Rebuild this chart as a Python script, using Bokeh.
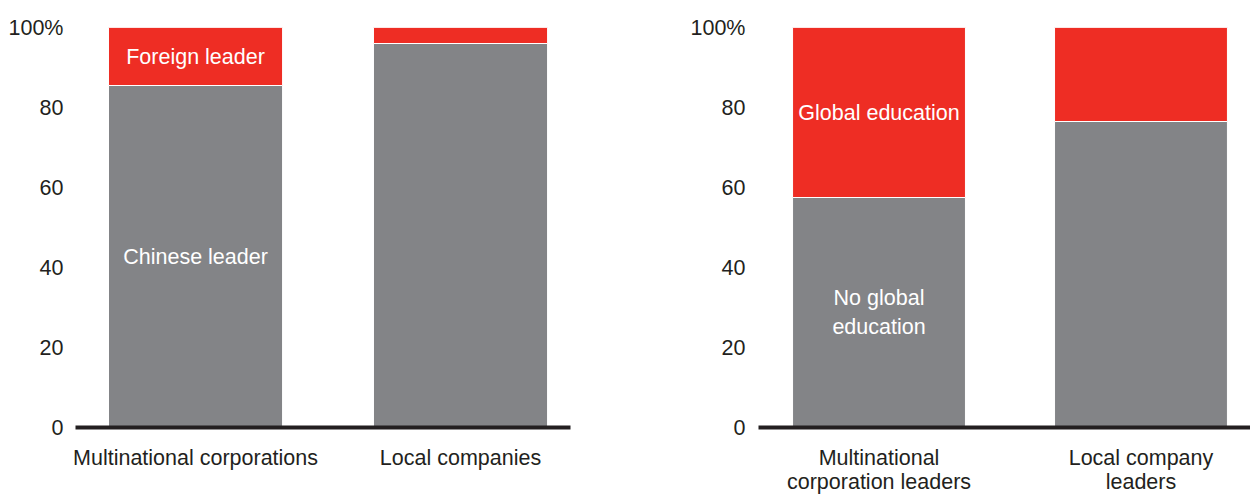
from bokeh.plotting import figure
from bokeh.models import ColumnDataSource, Range1d, FixedTicker
from bokeh.layouts import row
from bokeh.core.properties import value
from bokeh.embed import file_html
from bokeh.resources import INLINE

# ---- data ----
left_categories = ["Multinational corporations", "Local companies"]
left_chinese = [85.5, 96]
left_foreign = [14.5, 4]
left_bottom_label = "Chinese leader"
left_top_label = "Foreign leader"

right_categories = ["Multinational\ncorporation leaders", "Local company\nleaders"]
right_no_global = [57.5, 76.5]
right_global = [42.5, 23.5]
right_bottom_label = "No global\neducation"
right_top_label = "Global education"

y_ticks = [0, 20, 40, 60, 80, 100]
y_tick_labels = ["0", "20", "40", "60", "80", "100%"]

RED = "#EE2D24"
GRAY = "#838487"
DARK = "#231F20"
FONT = "Liberation Sans"
FS = "21.5px"


def make_panel(cats, low, high, low_label, high_label, width, border_left, border_right,
               x_start, x_end, bar_w, y_standoff):
    idx = list(range(len(cats)))
    tops_high = [a + b for a, b in zip(low, high)]
    src = ColumnDataSource(dict(x=idx, low=low, high=tops_high))
    p = figure(width=width, height=498, output_backend="svg", toolbar_location=None,
               x_range=Range1d(x_start, x_end), y_range=Range1d(0, 100),
               min_border_left=border_left, min_border_right=border_right,
               min_border_top=27, min_border_bottom=71)
    p.vbar(x="x", width=bar_w, bottom=0, top="low", source=src,
           fill_color=GRAY, line_color="white", line_width=1)
    p.vbar(x="x", width=bar_w, bottom="low", top="high", source=src,
           fill_color=RED, line_color="white", line_width=1)

    # labels inside the first bar, centred on each segment
    lab = ColumnDataSource(dict(
        x=[idx[0], idx[0]],
        y=[low[0] / 2, low[0] + high[0] / 2],
        t=[low_label, high_label]))
    p.text(x="x", y="y", text="t", source=lab, text_color="white",
           text_font=value(FONT), text_font_size=FS, text_align="center",
           text_baseline="middle", text_line_height=1.2)

    p.xgrid.visible = False
    p.ygrid.visible = False
    p.outline_line_color = None
    p.background_fill_color = "white"
    p.border_fill_color = "white"

    xa = p.xaxis[0]
    xa.ticker = FixedTicker(ticks=idx)
    xa.major_label_overrides = {i: c for i, c in zip(idx, cats)}
    xa.axis_line_width = 4
    xa.axis_line_color = DARK
    xa.major_tick_line_color = None
    xa.minor_tick_line_color = None
    xa.major_label_standoff = 12
    xa.major_label_text_font = FONT
    xa.major_label_text_font_size = FS
    xa.major_label_text_color = DARK
    xa.major_label_text_line_height = 1.04

    ya = p.yaxis[0]
    ya.ticker = FixedTicker(ticks=y_ticks)
    ya.major_label_overrides = {t: l for t, l in zip(y_ticks, y_tick_labels)}
    ya.axis_line_color = None
    ya.major_tick_line_color = None
    ya.minor_tick_line_color = None
    ya.major_label_standoff = y_standoff
    ya.major_label_text_font = FONT
    ya.major_label_text_font_size = FS
    ya.major_label_text_color = DARK
    return p


p1 = make_panel(left_categories, left_chinese, left_foreign, left_bottom_label, left_top_label,
                625, 75, 55, -0.453, 1.415, 0.657, 6)
p2 = make_panel(right_categories, right_no_global, right_global, right_bottom_label, right_top_label,
                625, 133, 0, -0.46, 1.418, 0.66, 7)

layout = row(p1, p2)
open("out.html", "w").write(file_html(layout, INLINE))
